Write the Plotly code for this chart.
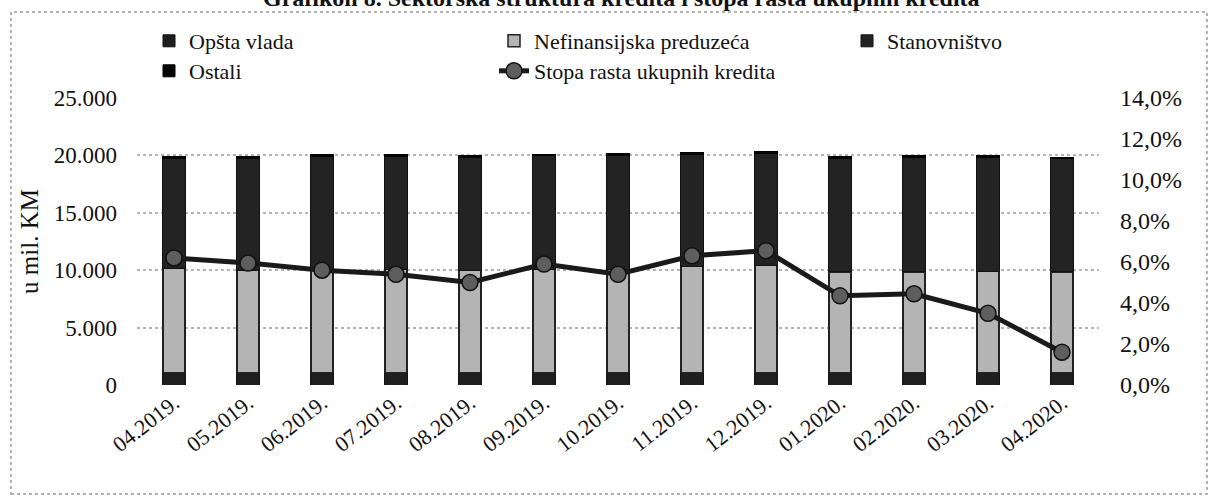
import plotly.graph_objects as go

categories = ["04.2019.", "05.2019.", "06.2019.", "07.2019.", "08.2019.", "09.2019.",
              "10.2019.", "11.2019.", "12.2019.", "01.2020.", "02.2020.", "03.2020.", "04.2020."]
opsta_vlada = [1100, 1100, 1100, 1100, 1100, 1100, 1100, 1100, 1100, 1100, 1100, 1100, 1100]
nefinansijska = [9050, 8900, 8950, 8950, 8900, 9000, 8950, 9250, 9350, 8750, 8750, 8800, 8750]
stanovnistvo = [9600, 9750, 9850, 9850, 9800, 9850, 9950, 9750, 9700, 9900, 9950, 9900, 9850]
ostali = [150, 150, 150, 150, 150, 150, 150, 150, 150, 150, 150, 150, 150]
stopa_rasta = [6.2, 5.95, 5.6, 5.4, 5.0, 5.9, 5.4, 6.3, 6.55, 4.35, 4.45, 3.5, 1.6]

FONT = "Liberation Serif"
W, H = 1209, 504
L, R, T, B = 137, 110, 98, 119

fig = go.Figure()
fig.add_trace(go.Bar(x=categories, y=opsta_vlada, name="Opšta vlada",
                     marker=dict(color="#1e1e1e", line=dict(color="#111", width=1)),
                     legend="legend"))
fig.add_trace(go.Bar(x=categories, y=nefinansijska, name="Nefinansijska preduzeća",
                     marker=dict(color="#b4b4b4", line=dict(color="#222", width=1.5)),
                     legend="legend2"))
fig.add_trace(go.Bar(x=categories, y=stanovnistvo, name="Stanovništvo",
                     marker=dict(color="#232323", line=dict(color="#111", width=1)),
                     legend="legend3"))
fig.add_trace(go.Bar(x=categories, y=ostali, name="Ostali",
                     marker=dict(color="#050505", line=dict(color="#000", width=1)),
                     legend="legend4"))
fig.add_trace(go.Scatter(x=categories, y=stopa_rasta, name="Stopa rasta ukupnih kredita",
                         mode="lines+markers", yaxis="y2",
                         line=dict(color="#1a1a1a", width=5),
                         marker=dict(size=16, color="#5e5e5e", line=dict(color="#111", width=1.5)),
                         legend="legend5"))

px2x = lambda px: (px - L) / (W - L - R)
py2y = lambda py: (H - B - py) / (H - T - B)

fig.add_shape(type="rect", xref="paper", yref="paper",
              x0=px2x(11), x1=px2x(1207), y0=py2y(494), y1=py2y(12),
              line=dict(color="#9a9a9a", width=1.5, dash="dot"), layer="below")

fig.add_annotation(text="<b>Grafikon 8. Sektorska struktura kredita i stopa rasta ukupnih kredita</b>",
                   xref="paper", yref="paper", x=px2x(621), y=py2y(-2),
                   xanchor="center", yanchor="middle", showarrow=False,
                   font=dict(family=FONT, size=24, color="#111"))


def leg(xpx, ypx):
    return dict(orientation="h", xref="container", yref="container",
                x=xpx / W, y=1 - ypx / H, xanchor="left", yanchor="middle",
                font=dict(size=22), bgcolor="rgba(0,0,0,0)")


fig.update_layout(
    width=W, height=H,
    margin=dict(l=L, r=R, t=T, b=B, autoexpand=False),
    plot_bgcolor="white", paper_bgcolor="white",
    barmode="stack", bargap=0.70,
    separators=",.",
    showlegend=True,
    font=dict(family=FONT, color="#111", size=20),
    xaxis=dict(tickangle=-38, tickfont=dict(size=22), showgrid=False,
               showline=False, ticks="", range=[-0.5, 12.5]),
    yaxis=dict(range=[0, 25000], dtick=5000, tickformat=",d",
               showgrid=True, gridcolor="#b5b5b5", griddash="dot", gridwidth=1.5,
               zeroline=False, ticklabelstandoff=19,
               title=dict(text="u mil. KM", standoff=8, font=dict(size=25)),
               tickfont=dict(size=23)),
    yaxis2=dict(range=[0, 14], dtick=2, tickformat=".1f", ticksuffix="%",
                overlaying="y", side="right", showgrid=False, zeroline=False,
                ticklabelstandoff=20, tickfont=dict(size=24)),
    legend=leg(149, 41),
    legend2=leg(494, 41),
    legend3=leg(847, 41),
    legend4=leg(149, 71),
    legend5=leg(494, 71),
)

fig.write_html("out.html", config={"displayModeBar": False},
               post_script="document.body.style.margin='0';")
